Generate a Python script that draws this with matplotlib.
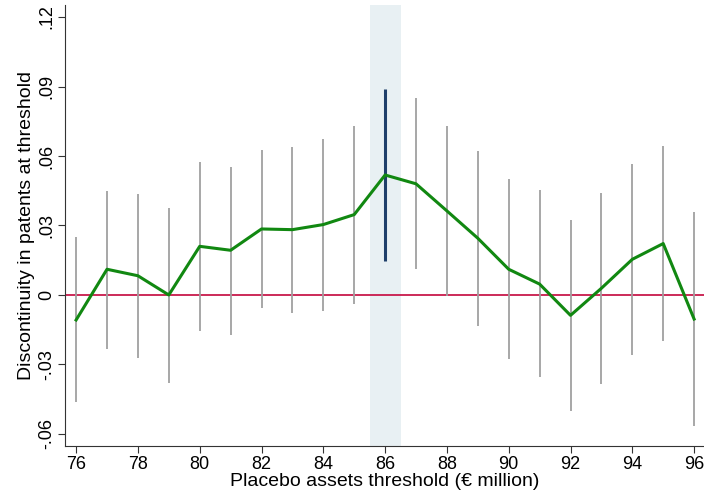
import matplotlib.pyplot as plt
import numpy as np

plt.rcParams['font.family'] = ['Liberation Sans', 'DejaVu Sans']

thresholds = np.arange(76, 97)
coef = np.array([-0.0108, 0.0111, 0.0083, 0.0000, 0.0210, 0.0193, 0.0285, 0.0282,
                 0.0304, 0.0347, 0.0518, 0.0480, 0.0363, 0.0245, 0.0111, 0.0047,
                 -0.0088, 0.0029, 0.0154, 0.0222, -0.0104])
ci_hi = np.array([0.0249, 0.0450, 0.0437, 0.0374, 0.0574, 0.0554, 0.0626, 0.0639,
                  0.0673, 0.0731, 0.0889, 0.0850, 0.0730, 0.0622, 0.0499, 0.0452,
                  0.0322, 0.0439, 0.0564, 0.0642, 0.0358])
ci_lo = np.array([-0.0463, -0.0232, -0.0271, -0.0380, -0.0155, -0.0171, -0.0055, -0.0076,
                  -0.0069, -0.0040, 0.0147, 0.0111, -0.0004, -0.0132, -0.0276, -0.0355,
                  -0.0501, -0.0385, -0.0259, -0.0199, -0.0567])
true_threshold = 86

fig = plt.figure(figsize=(7.04, 5.04), dpi=100)
ax = fig.add_axes([0.0923, 0.1151, 0.9077, 0.875])

ax.axvspan(true_threshold - 0.5, true_threshold + 0.5, color='#e8f0f3', zorder=0, lw=0)
ax.axhline(0, color='#c8194b', lw=1.3, zorder=1)

other = thresholds != true_threshold
ax.vlines(thresholds[other], ci_lo[other], ci_hi[other], color='#a0a0a0', lw=1.3, zorder=2)
ax.vlines(thresholds[~other], ci_lo[~other], ci_hi[~other], color='#1f3f6a', lw=2.2, zorder=3)
ax.plot(thresholds, coef, color='#118811', lw=2.2, zorder=4)

ax.set_xlim(75.64, 96.32)
ax.set_ylim(-0.0652, 0.1252)
ax.set_xticks(np.arange(76, 97, 2))
yt = [-0.06, -0.03, 0, 0.03, 0.06, 0.09, 0.12]
ax.set_yticks(yt)
ax.set_yticklabels(['-.06', '-.03', '0', '.03', '.06', '.09', '.12'],
                   rotation=90, va='center')
ax.tick_params(labelsize=13, length=5, color='#333333', pad=2)

for s in ['top', 'right']:
    ax.spines[s].set_visible(False)
for s in ['left', 'bottom']:
    ax.spines[s].set_color('#333333')

ax.set_xlabel('Placebo assets threshold (€ million)', fontsize=14, labelpad=0)
ax.set_ylabel('Discontinuity in patents at threshold', fontsize=14, labelpad=2)

fig.savefig('out.png', dpi=100)
